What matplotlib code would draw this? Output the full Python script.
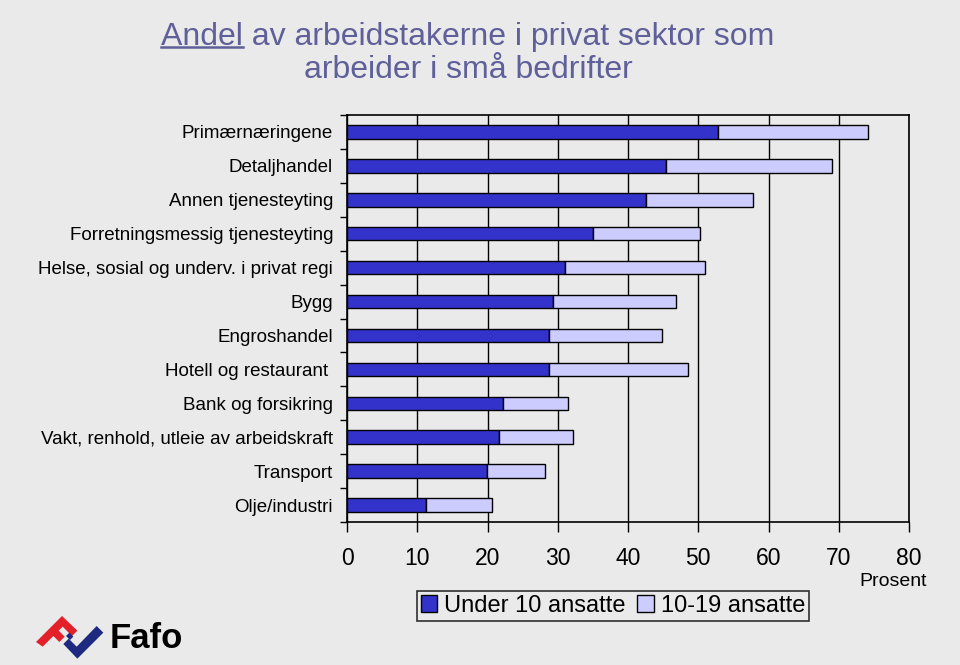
import matplotlib
matplotlib.use('Agg')
import matplotlib.pyplot as plt
from matplotlib.patches import Polygon, Patch
from matplotlib.ticker import FixedLocator

plt.rcParams['font.family'] = ['Liberation Sans', 'DejaVu Sans']

# data (top to bottom as in the chart)
categories = ['Primærnæringene', 'Detaljhandel', 'Annen tjenesteyting',
              'Forretningsmessig tjenesteyting',
              'Helse, sosial og underv. i privat regi', 'Bygg', 'Engroshandel',
              'Hotell og restaurant ', 'Bank og forsikring',
              'Vakt, renhold, utleie av arbeidskraft', 'Transport',
              'Olje/industri']
under10 = [52.8, 45.4, 42.5, 35.0, 31.0, 29.3, 28.8, 28.8, 22.2, 21.6, 19.9, 11.2]
total = [74.2, 69.1, 57.8, 50.2, 51.0, 46.8, 44.9, 48.5, 31.5, 32.2, 28.2, 20.6]
from10to19 = [t - u for t, u in zip(total, under10)]
xticks = [0, 10, 20, 30, 40, 50, 60, 70, 80]

bg = '#eaeaea'
dark = '#3333cc'
light = '#ccccff'
title_col = '#5f5f99'

W, H = 960, 665
fig = plt.figure(figsize=(W / 100, H / 100), dpi=100, facecolor=bg)
ax = fig.add_axes([347 / W, 1 - 522 / H, (909 - 347) / W, (522 - 115) / H])
ax.set_facecolor(bg)

ypos = list(range(len(categories)))
ax.barh(ypos, under10, height=0.4, color=dark, edgecolor='black', lw=1,
        label='Under 10 ansatte', zorder=3)
ax.barh(ypos, from10to19, left=under10, height=0.4, color=light,
        edgecolor='black', lw=1, label='10-19 ansatte', zorder=3)

ax.set_ylim(len(categories) - 0.5, -0.5)
ax.set_xlim(0, 80)
ax.set_yticks(ypos)
ax.set_yticklabels(categories, fontsize=13.5)
ax.tick_params(axis='y', length=0, pad=10)
ax.yaxis.set_minor_locator(FixedLocator([i - 0.5 for i in range(len(categories) + 1)]))
ax.tick_params(axis='y', which='minor', length=5, width=1, direction='out')

ax.set_xticks(xticks)
ax.set_xticklabels([str(v) for v in xticks], fontsize=16.5)
ax.tick_params(axis='x', length=7, width=1, direction='out', pad=11)
ax.xaxis.grid(True, color='black', lw=1, zorder=1)
for s in ax.spines.values():
    s.set_linewidth(1.2)

ax.text((893 - 347) / 562, -0.145, 'Prosent', transform=ax.transAxes,
        fontsize=14, ha='center', va='center')

handles = [Patch(facecolor=dark, edgecolor='black', lw=1),
           Patch(facecolor=light, edgecolor='black', lw=1)]
leg = fig.legend(handles, ['Under 10 ansatte', '10-19 ansatte'], loc='center',
                 bbox_to_anchor=(613 / W, 1 - 606 / H), ncol=2, fontsize=17,
                 frameon=True, fancybox=False, edgecolor='black', facecolor=bg,
                 handlelength=0.7, handleheight=0.7, handletextpad=0.3,
                 columnspacing=0.5, borderpad=0.15, borderaxespad=0)
leg.get_frame().set_linewidth(1.2)

# title with underlined first word
t1 = fig.text(468 / W, 1 - 37 / H, 'Andel av arbeidstakerne i privat sektor som',
              fontsize=23, color=title_col, ha='center', va='center')
fig.text(468 / W, 1 - 70 / H, 'arbeider i små bedrifter', fontsize=23,
         color=title_col, ha='center', va='center')
fig.canvas.draw()
r = fig.canvas.get_renderer()
bb = t1.get_window_extent(r)
tmp = fig.text(0, 0, 'Andel', fontsize=23)
wa = tmp.get_window_extent(r).width
tmp.remove()
uy = (bb.y0 + 5) / H
fig.add_artist(plt.Line2D([bb.x0 / W, (bb.x0 + wa) / W], [uy, uy],
                          color=title_col, lw=1.8))

# Fafo logo
lax = fig.add_axes([30 / W, 0, 80 / W, 57 / H])
lax.set_xlim(0, 240)
lax.set_ylim(171, 0)
lax.axis('off')
red = [(18, 102), (96, 24), (142, 68), (126, 84), (98, 56), (86, 68),
       (104, 86), (88, 102), (70, 84), (38, 116)]
blue = [(100, 108), (116, 92), (140, 116), (200, 54), (220, 74), (142, 152)]
blue2 = [(108, 84), (118, 74), (130, 86), (120, 96)]
lax.add_patch(Polygon(red, closed=True, color='#e3202a', lw=0))
lax.add_patch(Polygon(blue, closed=True, color='#1c2a80', lw=0))
lax.add_patch(Polygon(blue2, closed=True, color='#1c2a80', lw=0))
fig.text(110 / W, 1 - 638 / H, 'Fafo', fontsize=25, fontweight='bold',
         color='black', ha='left', va='center')

fig.savefig('out.png', dpi=100, facecolor=bg)
